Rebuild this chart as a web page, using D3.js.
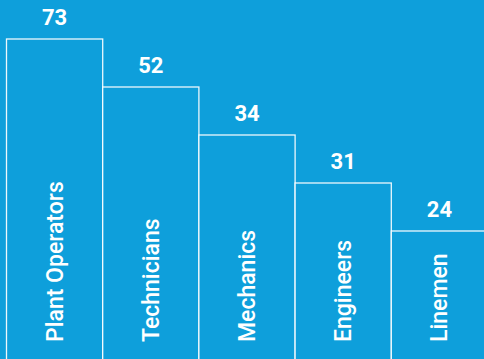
<!DOCTYPE html>
<html>
<head>
<meta charset="utf-8">
<script src="https://cdn.jsdelivr.net/npm/d3@7"></script>
<style>
  html, body { margin: 0; padding: 0; background: #0e9fdb; }
  svg { display: block; }
  text { font-family: Roboto, "Noto Sans", sans-serif; fill: #fff; }
</style>
</head>
<body>
<div id="chart"></div>
<script>
const WIDTH = 484
const HEIGHT = 359

// data
const categories = ['Plant Operators', 'Technicians', 'Mechanics', 'Engineers', 'Linemen']
const values = [73, 52, 34, 31, 24]

const BG = '#0e9fdb'

let svg = d3.select('#chart')
  .append('svg')
    .attr('width', WIDTH)
    .attr('height', HEIGHT)

svg.append('rect')
  .attr('width', WIDTH)
  .attr('height', HEIGHT)
  .attr('fill', BG)

let x = d3.scaleBand()
  .domain(categories)
  .range([6.5, 487.5])
  .padding(0)

// the chart steps down evenly by rank rather than by value
let y = d3.scalePoint()
  .domain(categories)
  .range([39, 231])

let data = categories.map((c, i) => ({ name: c, value: values[i] }))

let bars = svg.selectAll('.bar')
  .data(data)
  .enter().append('g')
    .attr('class', 'bar')

bars.append('rect')
  .attr('x', (d) => x(d.name))
  .attr('y', (d) => y(d.name))
  .attr('width', x.bandwidth())
  .attr('height', (d) => HEIGHT + 10 - y(d.name))
  .attr('fill', BG)
  .attr('stroke', 'rgba(255,255,255,0.92)')
  .attr('stroke-width', 1.3)

bars.append('text')
  .attr('x', (d) => x(d.name) + x.bandwidth() / 2)
  .attr('y', (d) => y(d.name) - 14)
  .attr('text-anchor', 'middle')
  .attr('font-size', 22)
  .attr('font-weight', 700)
  .text((d) => d.value)

bars.append('text')
  .attr('transform', (d) => 'translate(' + [x(d.name) + x.bandwidth() / 2 + 8, 342] + ') rotate(-90)')
  .attr('text-anchor', 'start')
  .attr('font-size', 23)
  .attr('font-weight', 500)
  .text((d) => d.name)
</script>
</body>
</html>
